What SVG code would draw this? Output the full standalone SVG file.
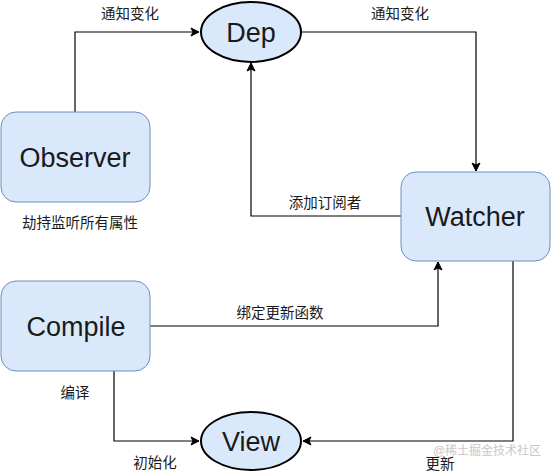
<svg xmlns="http://www.w3.org/2000/svg" width="551" height="472" viewBox="0 0 551 472">
<defs>
<marker id="arr" markerWidth="10" markerHeight="10" refX="9" refY="5" orient="auto" markerUnits="userSpaceOnUse">
<path d="M1,1 L9,5 L1,9 L3,5 Z" fill="#000" stroke="#000" stroke-width="1"/>
</marker>
<style>
.box{fill:#dae8fc;stroke:#6c8ebf;stroke-width:1}
.ell{fill:#dae8fc;stroke:#000;stroke-width:2}
.big{font-family:"Liberation Sans",Arial,sans-serif;font-size:27px;fill:#1a1a1a;text-anchor:middle}
.lbl{font-family:"Liberation Sans","Noto Sans CJK SC",sans-serif;font-size:14.5px;fill:#1a1a1a;text-anchor:middle}
.wm{font-family:"Liberation Sans","Noto Sans CJK SC",sans-serif;font-size:12px;fill:#c8c8c8;text-anchor:middle}
.con{fill:none;stroke:#000;stroke-width:1.2}
</style>
</defs>
<rect width="551" height="472" fill="#fff"/>
<g id="connectors">
<polyline class="con" points="75,112 75,32 199,32" marker-end="url(#arr)"/>
<polyline class="con" points="302,32 476,32 476,171" marker-end="url(#arr)"/>
<polyline class="con" points="401,216 251,216 251,63" marker-end="url(#arr)"/>
<polyline class="con" points="150,326 438,326 438,262" marker-end="url(#arr)"/>
<polyline class="con" points="114,371 114,441 199,441" marker-end="url(#arr)"/>
<polyline class="con" points="513,261 513,441 303,441" marker-end="url(#arr)"/>
</g>
<g id="dep">
<ellipse class="ell" cx="251" cy="32" rx="50" ry="30"/>
<text class="big" x="251" y="42">Dep</text>
</g>
<g id="observer">
<rect class="box" x="1" y="112" width="149" height="90" rx="15"/>
<text class="big" x="75" y="167">Observer</text>
</g>
<g id="watcher">
<rect class="box" x="401" y="172" width="149" height="89" rx="15"/>
<text class="big" x="475" y="226">Watcher</text>
</g>
<g id="compile">
<rect class="box" x="1" y="281" width="149" height="90" rx="15"/>
<text class="big" x="76" y="336">Compile</text>
</g>
<g id="view">
<ellipse class="ell" cx="251" cy="441" rx="50" ry="29"/>
<text class="big" x="251" y="451">View</text>
</g>
<g id="labels">
<text class="lbl" x="130" y="19">通知变化</text>
<text class="lbl" x="400" y="19">通知变化</text>
<text class="lbl" x="325" y="208">添加订阅者</text>
<text class="lbl" x="80" y="228">劫持监听所有属性</text>
<text class="lbl" x="280" y="318">绑定更新函数</text>
<text class="lbl" x="75" y="398">编译</text>
<text class="lbl" x="155" y="468">初始化</text>
<text class="lbl" x="440" y="469">更新</text>
<text class="wm" x="487" y="455">@稀土掘金技术社区</text>
</g>
</svg>
